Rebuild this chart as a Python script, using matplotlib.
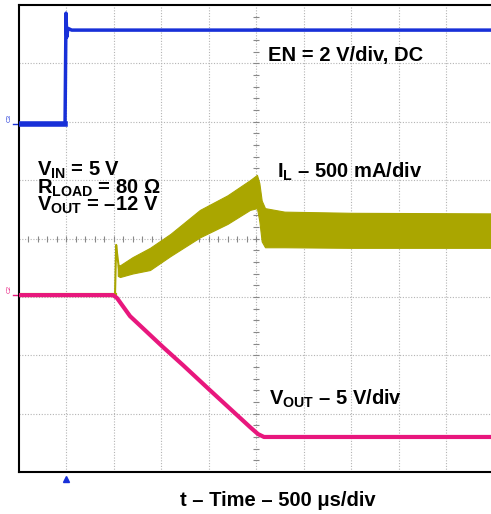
import matplotlib
matplotlib.use("Agg")
from matplotlib import pyplot as plt

plt.rcParams["font.family"] = ["Liberation Sans", "DejaVu Sans"]
plt.rcParams["font.weight"] = "bold"
plt.rcParams["mathtext.fontset"] = "custom"
plt.rcParams["mathtext.rm"] = "Liberation Sans:bold"
plt.rcParams["mathtext.bf"] = "Liberation Sans:bold"
plt.rcParams["mathtext.it"] = "Liberation Sans:bold"

# time in us (500 us/div, trigger at 0), levels in scope divisions (0..8)
en_t = [-500, -10, 0, 8, 20, 60, 4500]
en_v = [5.96, 5.96, 7.86, 7.45, 7.60, 7.57, 7.57]

vout_t = [-500, 495, 537, 674, 1021, 1232, 1516, 1937, 2021, 2084, 4500]
vout_v = [3.03, 3.03, 2.98, 2.67, 2.14, 1.83, 1.40, 0.77, 0.65, 0.60, 0.60]

il_flat_t = [-500, 516]
il_flat_v = [3.04, 3.04]
il_spike_t = [516, 528, 537, 560]
il_spike_v = [3.04, 3.89, 3.75, 3.45]
il_t = [545, 568, 700, 884, 1100, 1410, 1700, 1937, 2010, 2035, 2060, 2095, 2300, 3000, 4500]
il_top = [3.55, 3.54, 3.68, 3.84, 4.08, 4.49, 4.74, 5.00, 5.09, 4.95, 4.65, 4.52, 4.46, 4.44, 4.43]
il_bot = [3.36, 3.34, 3.40, 3.46, 3.70, 4.02, 4.25, 4.49, 4.52, 4.30, 3.95, 3.85, 3.85, 3.84, 3.84]

blue = "#1830d8"
olive = "#aaa600"
pink = "#e8177d"

fig = plt.figure(figsize=(4.91, 5.14), dpi=100)
ax = fig.add_axes([18.5 / 491, 1 - 472 / 514, 475 / 491, 467 / 514])
ax.set_xlim(-500, 4500)
ax.set_ylim(0, 8)

# graticule
for i in range(1, 10):
    ax.axvline(-500 + i * 500, color="#b4b4b4", lw=0.8, ls=(0, (1, 1.5)), zorder=1)
for j in range(1, 8):
    ax.axhline(j, color="#b4b4b4", lw=0.8, ls=(0, (1, 1.5)), zorder=1)
ax.plot([2000] * 39, [k * 0.2 for k in range(1, 40)], ls="none", marker="_",
        ms=5, mew=0.8, color="#888888", zorder=1)
ax.plot([-500 + k * 100 for k in range(1, 50)], [4] * 49, ls="none", marker="|",
        ms=5, mew=0.8, color="#888888", zorder=1)

# traces
ax.plot(il_flat_t, il_flat_v, color=olive, lw=3, zorder=2)
ax.fill_between(il_t, il_bot, il_top, color=olive, lw=0.8, edgecolor=olive, zorder=3)
ax.plot(il_spike_t, il_spike_v, color=olive, lw=1.5, zorder=3)
ax.plot(vout_t, vout_v, color=pink, lw=3, zorder=4)
ax.plot(en_t[:2], en_v[:2], color=blue, lw=4, zorder=4)
ax.plot(en_t, en_v, color=blue, lw=2.5, zorder=4)

ax.set_xticks([])
ax.set_yticks([])
for s in ax.spines.values():
    s.set_linewidth(1.5)
    s.set_color("black")

# channel markers and trigger
ax.plot([0], [-0.12], marker="^", ms=4, color=blue, clip_on=False)
ax.plot([-560, -500], [5.96, 5.96], color=blue, lw=1, clip_on=False)
ax.text(-600, 6.0, "C3", color=blue, fontsize=4.5, fontweight="normal",
        rotation=90, ha="center", va="bottom", clip_on=False)
ax.plot([-560, -500], [3.03, 3.03], color=pink, lw=1, clip_on=False)
ax.text(-600, 3.07, "C2", color=pink, fontsize=4.5, fontweight="normal",
        rotation=90, ha="center", va="bottom", clip_on=False)


def label(x, y, s, **kw):
    fig.text(x / 491, 1 - y / 514, s, fontsize=14.5, fontweight="bold",
             ha="left", va="baseline", **kw)


label(268, 61, "EN = 2 V/div, DC")
label(37, 211, "V$_{\\mathrm{IN}}$ = 5 V\nR$_{\\mathrm{LOAD}}$ = 80 Ω\nV$_{\\mathrm{OUT}}$ = –12 V",
      linespacing=0.76)
label(277, 178, "I$_{\\mathrm{L}}$ – 500 mA/div")
label(269, 405, "V$_{\\mathrm{OUT}}$ – 5 V/div")
label(180, 506, "t – Time – 500 μs/div")

fig.savefig("out.png", dpi=100)
